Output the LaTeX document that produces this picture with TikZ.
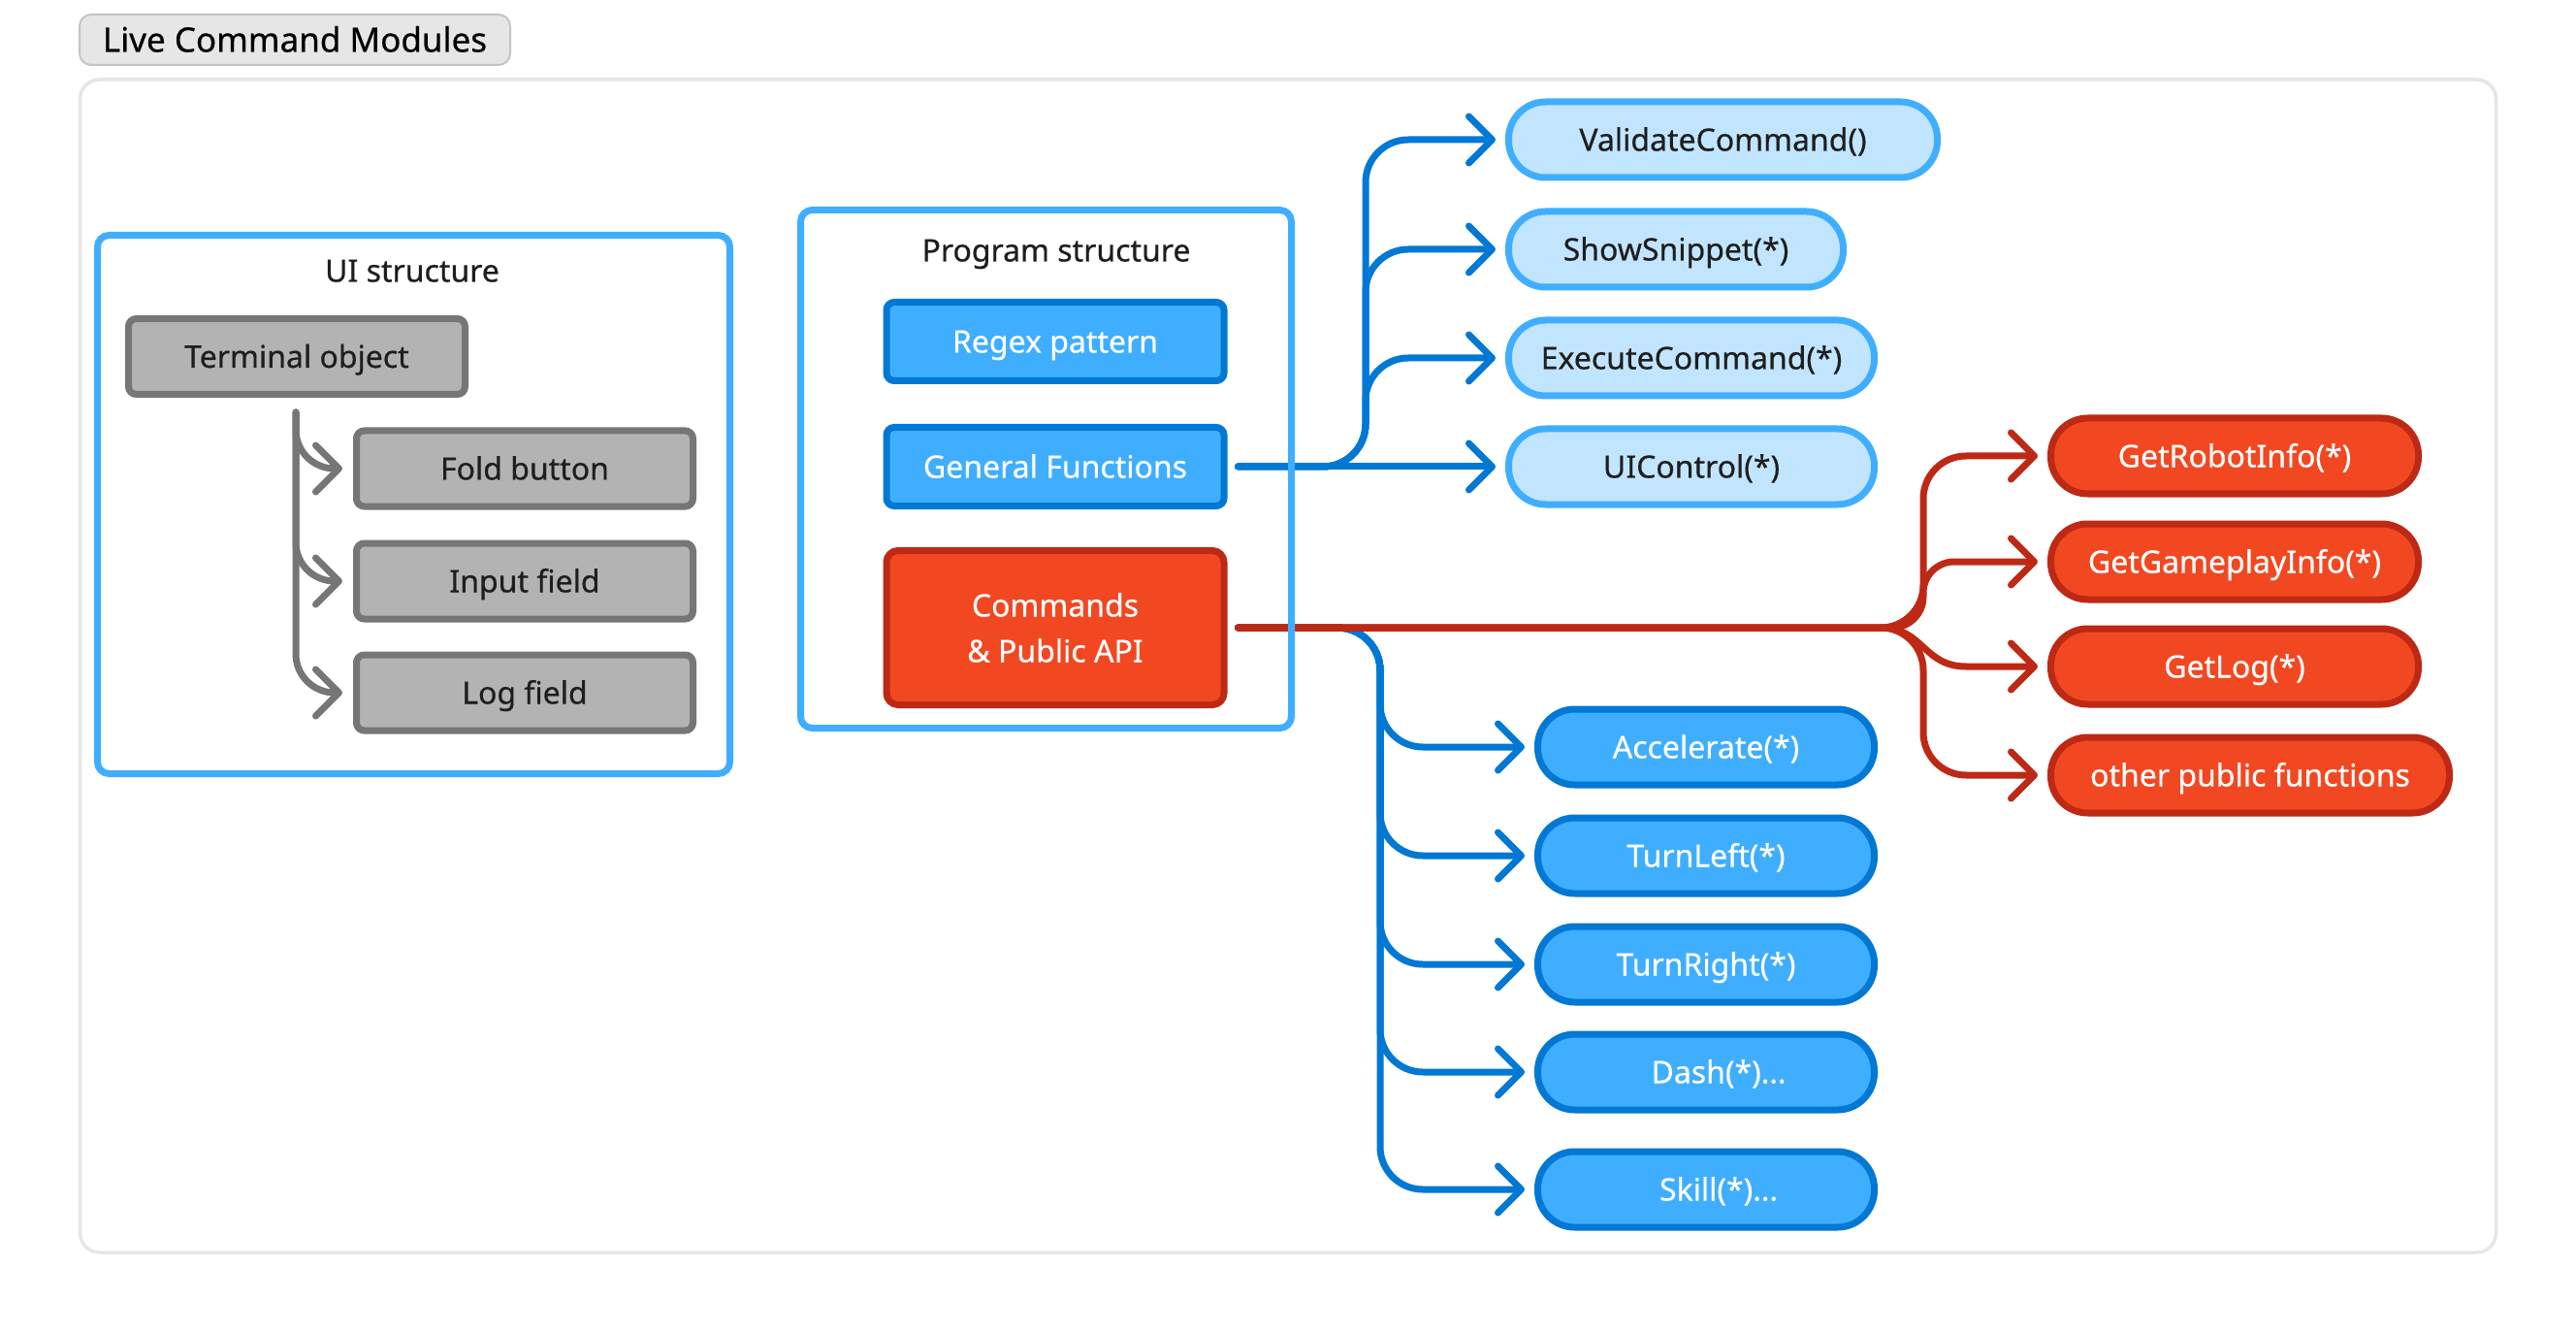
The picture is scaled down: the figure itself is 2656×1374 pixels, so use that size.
\documentclass[tikz,border=0pt]{standalone}
\usepackage{fontspec}
\setmainfont{Noto Sans}[FakeBold=0.5]
\newfontfamily\labelfont{Noto Sans}[FakeBold=0.5]
\usetikzlibrary{arrows.meta}

\definecolor{cBlue}{HTML}{40AEFF}
\definecolor{cBlueD}{HTML}{0078D4}
\definecolor{cLight}{HTML}{C2E5FF}
\definecolor{cRed}{HTML}{F24822}
\definecolor{cRedD}{HTML}{BD2915}
\definecolor{cGrayF}{HTML}{B3B3B3}
\definecolor{cGrayB}{HTML}{767676}
\definecolor{cText}{HTML}{1E1E1E}
\definecolor{cTitleF}{HTML}{E6E6E6}
\definecolor{cTitleB}{HTML}{C4C4C4}
\definecolor{cFrame}{HTML}{E6E6E6}

\pgfdeclarelayer{bg}
\pgfdeclarelayer{lines}
\pgfsetlayers{bg,lines,main}

\tikzset{
  base/.style={draw, line width=3.5pt, align=center, inner sep=0pt,
    font=\labelfont\fontsize{16}{23.5}\selectfont},
  oneline/.style={text height=11.5pt, text depth=0pt},
  graybox/.style={base, oneline, fill=cGrayF, draw=cGrayB, text=cText, rounded corners=4pt,
    minimum width=173.5pt, minimum height=39pt},
  bluebox/.style={base, oneline, fill=cBlue, draw=cBlueD, text=white, rounded corners=4pt,
    minimum width=174pt, minimum height=40.5pt},
  cmdbox/.style={base, fill=cRed, draw=cRedD, text=white, rounded corners=6pt,
    minimum width=174pt, minimum height=79.5pt},
  pill/.style={base, oneline, rounded corners=19pt, minimum height=39pt},
  lightpill/.style={pill, fill=cLight, draw=cBlue, text=cText},
  redpill/.style={pill, fill=cRed, draw=cRedD, text=white},
  bluepill/.style={pill, fill=cBlue, draw=cBlueD, text=white, minimum width=173.5pt},
  container/.style={draw=cBlue, line width=3.5pt, rounded corners=6pt, inner sep=0pt},
  heading/.style={oneline, text=cText, inner sep=0pt, font=\labelfont\fontsize{16}{20}\selectfont},
  link/.style={line width=3.5pt, line cap=round, line join=round,
    -{Straight Barb[length=12pt,width=24pt,round]}},
  graylink/.style={link, draw=cGrayB},
  bluelink/.style={link, draw=cBlueD},
  redlink/.style={link, draw=cRedD},
}

\begin{document}
\begin{tikzpicture}[x=0.5pt,y=-0.5pt]
\useasboundingbox (0,0) rectangle (2656,1374);

% outer frame and heading tab
\begin{pgfonlayer}{bg}
  \node[draw=cFrame, fill=white, line width=1.75pt, rounded corners=10pt,
        minimum width=1245.5pt, minimum height=604.5pt] (frame) at (1328,686.5) {};
\end{pgfonlayer}
\node[draw=cTitleB, fill=cTitleF, line width=1pt, rounded corners=6pt, inner sep=0pt,
      minimum width=222pt, minimum height=26pt, text=black,
      text height=12.5pt, text depth=0pt,
      font=\labelfont\fontsize{17.5}{20}\selectfont] (title) at (304,41) {Live Command Modules};

% UI structure
\node[container, minimum width=326pt, minimum height=277.5pt] (ui) at (426.5,520) {};
\node[heading] (uititle) at (425,279) {UI structure};
\node[graybox] (term) at (306,367.5) {Terminal object};
\node[graybox] (fold) at (541,483) {Fold button};
\node[graybox] (input) at (541,599) {Input field};
\node[graybox] (log) at (541,714) {Log field};

% Program structure
\node[container, minimum width=253pt, minimum height=267pt] (prog) at (1078.5,483.5) {};
\node[heading] (progtitle) at (1089,258) {Program structure};
\node[bluebox] (regex) at (1088,352) {Regex pattern};
\node[bluebox] (gen) at (1088,481) {General Functions};
\node[cmdbox] (cmd) at (1088,647) {Commands\\\& Public API};

% general functions
\node[lightpill, minimum width=221pt] (validate) at (1776.5,144) {ValidateCommand()};
\node[lightpill, minimum width=172.5pt] (snippet) at (1728,257) {ShowSnippet(*)};
\node[lightpill, minimum width=188.5pt] (exec) at (1744,369) {ExecuteCommand(*)};
\node[lightpill, minimum width=188.5pt] (uictl) at (1744,481) {UIControl(*)};

% public API
\node[redpill, minimum width=189.5pt] (robot) at (2304,470) {GetRobotInfo(*)};
\node[redpill, minimum width=189.5pt] (gameplay) at (2304,579) {GetGameplayInfo(*)};
\node[redpill, minimum width=189.5pt] (getlog) at (2304,687) {GetLog(*)};
\node[redpill, minimum width=205.5pt] (other) at (2320,799) {other public functions};

% commands
\node[bluepill] (acc) at (1759,770) {Accelerate(*)};
\node[bluepill] (tleft) at (1759,882) {TurnLeft(*)};
\node[bluepill] (tright) at (1759,994) {TurnRight(*)};
\node[bluepill] (dash) at (1759,1105) {\hspace*{13pt}Dash(*)...};
\node[bluepill] (skill) at (1759,1226) {\hspace*{13pt}Skill(*)...};

% trunk positions
\coordinate (gs) at (305,425);
\coordinate (bu) at (1408,481);
\coordinate (bl) at (1423,647);
\coordinate (rv) at (1983,647);
\coordinate (rl) at (rv |- getlog.west);

\begin{pgfonlayer}{lines}
  % UI tree
  \foreach \t in {fold,input,log}
    \draw[graylink, rounded corners=20pt] (gs) |- ([xshift=-5.5pt]\t.west);

  % general functions fan-out
  \foreach \t in {validate,snippet,exec}
    \draw[bluelink, rounded corners=22pt] ([xshift=5.5pt]gen.east) -| (bu |- \t.west)
      -- ([xshift=-5pt]\t.west);
  \draw[bluelink] ([xshift=5.5pt]gen.east) -- ([xshift=-5pt]uictl.west);

  % command fan-out
  \foreach \t in {acc,tleft,tright,dash,skill}
    \draw[bluelink, rounded corners=22pt] ([xshift=5.5pt]cmd.east) -| (bl |- \t.west)
      -- ([xshift=-5pt]\t.west);

  % public API fan-out
  \draw[redlink, rounded corners=22pt] ([xshift=5.5pt]cmd.east) -| (rv |- robot.west)
    -- ([xshift=-5pt]robot.west);
  \draw[redlink, rounded corners=16pt] ([xshift=5.5pt]cmd.east) -| (rv |- gameplay.west)
    -- ([xshift=-5pt]gameplay.west);
  \draw[redlink] ([xshift=5.5pt]cmd.east) -- ([xshift=-22pt]rv)
    .. controls (rv) and (rl) .. ([xshift=22pt]rl) -- ([xshift=-5pt]getlog.west);
  \draw[redlink, rounded corners=22pt] ([xshift=5.5pt]cmd.east) -| (rv |- other.west)
    -- ([xshift=-5pt]other.west);
\end{pgfonlayer}
\end{tikzpicture}
\end{document}
